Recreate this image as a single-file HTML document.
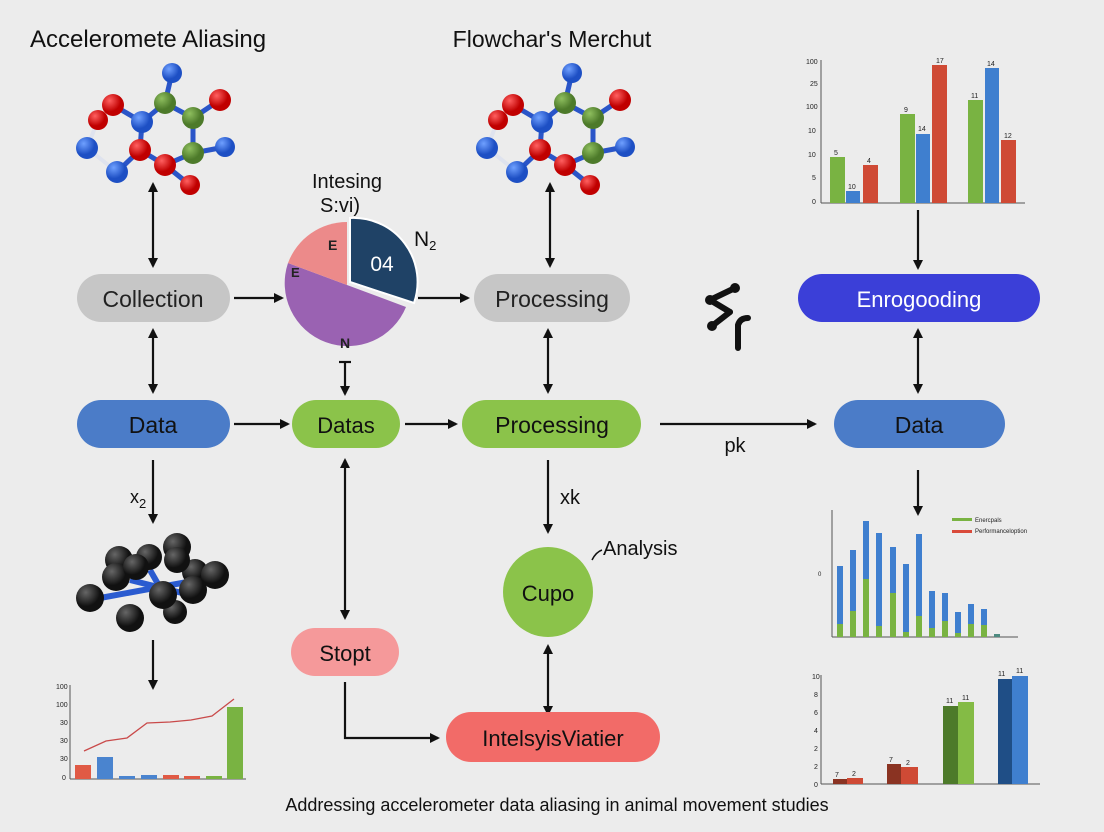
<!DOCTYPE html>
<html><head><meta charset="utf-8"><style>
html,body{margin:0;padding:0;background:#ececec;}
svg{display:block;font-family:"Liberation Sans",Arial,sans-serif;}
</style></head><body>
<svg width="1104" height="832" viewBox="0 0 1104 832" xmlns="http://www.w3.org/2000/svg">
<defs>
<marker id="ah" markerWidth="10" markerHeight="10" refX="8" refY="5" orient="auto-start-reverse" markerUnits="userSpaceOnUse"><path d="M0,0 L10,5 L0,10 Z" fill="#111"/></marker>
<radialGradient id="gb" cx="35%" cy="30%"><stop offset="0" stop-color="#6fa0ff"/><stop offset="1" stop-color="#1d4fc4"/></radialGradient>
<radialGradient id="gr" cx="35%" cy="30%"><stop offset="0" stop-color="#ff6060"/><stop offset="1" stop-color="#c00000"/></radialGradient>
<radialGradient id="gg" cx="35%" cy="30%"><stop offset="0" stop-color="#8fbf5f"/><stop offset="1" stop-color="#4d7a2a"/></radialGradient>
<radialGradient id="gk" cx="35%" cy="30%"><stop offset="0" stop-color="#666"/><stop offset="1" stop-color="#111"/></radialGradient>
<g id="mol">
<g stroke="#2a55c8" stroke-width="5">
<line x1="172" y1="73" x2="165" y2="103"/><line x1="165" y1="103" x2="193" y2="118"/><line x1="193" y1="118" x2="220" y2="100"/>
<line x1="165" y1="103" x2="142" y2="122"/><line x1="142" y1="122" x2="113" y2="105"/><line x1="142" y1="122" x2="140" y2="150"/>
<line x1="193" y1="118" x2="193" y2="153"/><line x1="193" y1="153" x2="225" y2="147"/><line x1="140" y1="150" x2="117" y2="172"/>
<line x1="140" y1="150" x2="165" y2="165"/><line x1="165" y1="165" x2="190" y2="185"/><line x1="193" y1="153" x2="165" y2="165"/>
</g>
<g stroke="#dfe3ee" stroke-width="4"><line x1="98" y1="120" x2="87" y2="148"/><line x1="87" y1="148" x2="117" y2="172"/></g>
<circle cx="172" cy="73" r="10" fill="url(#gb)"/><circle cx="220" cy="100" r="11" fill="url(#gr)"/>
<circle cx="113" cy="105" r="11" fill="url(#gr)"/><circle cx="98" cy="120" r="10" fill="url(#gr)"/>
<circle cx="165" cy="103" r="11" fill="url(#gg)"/><circle cx="193" cy="118" r="11" fill="url(#gg)"/>
<circle cx="142" cy="122" r="11" fill="url(#gb)"/><circle cx="87" cy="148" r="11" fill="url(#gb)"/>
<circle cx="140" cy="150" r="11" fill="url(#gr)"/><circle cx="193" cy="153" r="11" fill="url(#gg)"/>
<circle cx="225" cy="147" r="10" fill="url(#gb)"/><circle cx="117" cy="172" r="11" fill="url(#gb)"/>
<circle cx="165" cy="165" r="11" fill="url(#gr)"/><circle cx="190" cy="185" r="10" fill="url(#gr)"/>
</g>
</defs>

<text x="30" y="47" font-size="24" fill="#111">Acceleromete Aliasing</text>
<text x="552" y="47" font-size="23" fill="#111" text-anchor="middle">Flowchar's Merchut</text>

<use href="#mol"/>
<use href="#mol" x="400"/>

<g stroke="#111" stroke-width="2.2" fill="none">
<line x1="153" y1="184" x2="153" y2="266" marker-start="url(#ah)" marker-end="url(#ah)"/>
<line x1="550" y1="184" x2="550" y2="266" marker-start="url(#ah)" marker-end="url(#ah)"/>
<line x1="234" y1="298" x2="282" y2="298" marker-end="url(#ah)"/>
<line x1="418" y1="298" x2="468" y2="298" marker-end="url(#ah)"/>
<line x1="918" y1="210" x2="918" y2="268" marker-end="url(#ah)"/>
<line x1="153" y1="330" x2="153" y2="392" marker-start="url(#ah)" marker-end="url(#ah)"/>
<line x1="548" y1="330" x2="548" y2="392" marker-start="url(#ah)" marker-end="url(#ah)"/>
<line x1="918" y1="330" x2="918" y2="392" marker-start="url(#ah)" marker-end="url(#ah)"/>
<line x1="345" y1="362" x2="345" y2="394" marker-end="url(#ah)"/>
<line x1="339" y1="362" x2="351" y2="362"/>
<line x1="234" y1="424" x2="288" y2="424" marker-end="url(#ah)"/>
<line x1="405" y1="424" x2="456" y2="424" marker-end="url(#ah)"/>
<line x1="660" y1="424" x2="815" y2="424" marker-end="url(#ah)"/>
<line x1="153" y1="460" x2="153" y2="522" marker-end="url(#ah)"/>
<line x1="153" y1="640" x2="153" y2="688" marker-end="url(#ah)"/>
<line x1="548" y1="460" x2="548" y2="532" marker-end="url(#ah)"/>
<line x1="345" y1="460" x2="345" y2="618" marker-start="url(#ah)" marker-end="url(#ah)"/>
<line x1="548" y1="646" x2="548" y2="714" marker-start="url(#ah)" marker-end="url(#ah)"/>
<line x1="918" y1="470" x2="918" y2="514" marker-end="url(#ah)"/>
<polyline points="345,682 345,738 438,738" marker-end="url(#ah)"/>
</g>

<rect x="77" y="274" width="153" height="48" rx="24" fill="#c6c6c6"/>
<text x="153" y="307" font-size="23" text-anchor="middle" fill="#222">Collection</text>
<rect x="474" y="274" width="156" height="48" rx="24" fill="#c6c6c6"/>
<text x="552" y="307" font-size="23" text-anchor="middle" fill="#222">Processing</text>
<rect x="798" y="274" width="242" height="48" rx="24" fill="#3b3fd8"/>
<text x="919" y="307" font-size="22" text-anchor="middle" fill="#fff">Enrogooding</text>

<rect x="77" y="400" width="153" height="48" rx="24" fill="#4b7cc8"/>
<text x="153" y="433" font-size="23" text-anchor="middle" fill="#111">Data</text>
<rect x="292" y="400" width="108" height="48" rx="24" fill="#8bc34a"/>
<text x="346" y="433" font-size="22" text-anchor="middle" fill="#111">Datas</text>
<rect x="462" y="400" width="179" height="48" rx="24" fill="#8bc34a"/>
<text x="552" y="433" font-size="23" text-anchor="middle" fill="#111">Processing</text>
<rect x="834" y="400" width="171" height="48" rx="24" fill="#4b7cc8"/>
<text x="919" y="433" font-size="23" text-anchor="middle" fill="#111">Data</text>

<text x="735" y="452" font-size="20" text-anchor="middle" fill="#111">pk</text>
<text x="130" y="503" font-size="18" fill="#111">x<tspan font-size="13" dy="5">2</tspan></text>
<text x="560" y="504" font-size="20" fill="#111">xk</text>

<circle cx="548" cy="592" r="45" fill="#8bc34a"/>
<text x="548" y="601" font-size="22" text-anchor="middle" fill="#111">Cupo</text>
<path d="M592,560 Q596,552 602,550" stroke="#111" stroke-width="1.5" fill="none"/>
<text x="603" y="555" font-size="20" fill="#111">Analysis</text>

<rect x="291" y="628" width="108" height="48" rx="24" fill="#f5999a"/>
<text x="345" y="661" font-size="22" text-anchor="middle" fill="#111">Stopt</text>
<rect x="446" y="712" width="214" height="50" rx="25" fill="#f26b68"/>
<text x="553" y="746" font-size="22" text-anchor="middle" fill="#111">IntelsyisViatier</text>

<text x="347" y="188" font-size="20" text-anchor="middle" fill="#111">Intesing</text>
<text x="340" y="212" font-size="20" text-anchor="middle" fill="#111">S:vi)</text>
<path d="M347,285 L406,307 A63,63 0 0 1 288,263 Z" fill="#9a62b2"/>
<path d="M347,285 L288,263 A63,63 0 0 1 347,222 Z" fill="#ec8a8a"/>
<path d="M350,282 L350,218 A64,64 0 0 1 414,303 Z" fill="#1f4266" stroke="#fff" stroke-width="2"/>
<text x="382" y="271" font-size="21" text-anchor="middle" fill="#fff">04</text>
<text x="328" y="250" font-size="14" font-weight="bold" fill="#222">E</text>
<text x="291" y="277" font-size="13" font-weight="bold" fill="#222">E</text>
<text x="340" y="348" font-size="14" font-weight="bold" fill="#222">N</text>
<text x="414" y="246" font-size="21" fill="#111">N<tspan font-size="13" dy="4">2</tspan></text>

<g stroke="#111" stroke-width="6" fill="none" stroke-linecap="round">
<line x1="735" y1="288" x2="710" y2="300"/><line x1="710" y1="300" x2="730" y2="312"/><line x1="730" y1="312" x2="712" y2="326"/>
<path d="M738,348 L738,325 Q740,318 748,318"/>
</g>
<circle cx="735" cy="288" r="5" fill="#111"/><circle cx="710" cy="300" r="5" fill="#111"/><circle cx="712" cy="326" r="5" fill="#111"/>

<g stroke="#2a5bd0" stroke-width="6">
<line x1="100" y1="598" x2="220" y2="576"/><line x1="130" y1="580" x2="190" y2="595"/><line x1="150" y1="570" x2="170" y2="605"/>
</g>
<g>
<circle cx="119" cy="560" r="14" fill="url(#gk)"/><circle cx="149" cy="557" r="13" fill="url(#gk)"/><circle cx="177" cy="547" r="14" fill="url(#gk)"/>
<circle cx="195" cy="572" r="13" fill="url(#gk)"/><circle cx="215" cy="575" r="14" fill="url(#gk)"/>
<circle cx="116" cy="577" r="14" fill="url(#gk)"/><circle cx="136" cy="567" r="13" fill="url(#gk)"/><circle cx="177" cy="560" r="13" fill="url(#gk)"/>
<circle cx="90" cy="598" r="14" fill="url(#gk)"/><circle cx="130" cy="618" r="14" fill="url(#gk)"/><circle cx="175" cy="612" r="12" fill="url(#gk)"/>
<circle cx="163" cy="595" r="14" fill="url(#gk)"/><circle cx="193" cy="590" r="14" fill="url(#gk)"/>
</g>

<g font-size="7" fill="#222">
<line x1="821" y1="60" x2="821" y2="203" stroke="#555"/><line x1="821" y1="203" x2="1025" y2="203" stroke="#555"/>
<text x="806" y="64">100</text><text x="810" y="86">25</text><text x="806" y="109">100</text><text x="808" y="133">10</text><text x="808" y="157">10</text><text x="812" y="180">5</text><text x="812" y="204">0</text>
<rect x="830" y="157" width="15" height="46" fill="#79b342"/><rect x="846" y="191" width="14" height="12" fill="#3f7fcf"/><rect x="863" y="165" width="15" height="38" fill="#cf4a35"/>
<rect x="900" y="114" width="15" height="89" fill="#79b342"/><rect x="916" y="134" width="14" height="69" fill="#3f7fcf"/><rect x="932" y="65" width="15" height="138" fill="#cf4a35"/>
<rect x="968" y="100" width="15" height="103" fill="#79b342"/><rect x="985" y="68" width="14" height="135" fill="#3f7fcf"/><rect x="1001" y="140" width="15" height="63" fill="#cf4a35"/>
<text x="834" y="155">5</text><text x="848" y="189">10</text><text x="867" y="163">4</text><text x="904" y="112">9</text><text x="918" y="131">14</text><text x="936" y="63">17</text><text x="971" y="98">11</text><text x="987" y="66">14</text><text x="1004" y="138">12</text>
</g>

<g font-size="6" fill="#222">
<line x1="832" y1="510" x2="832" y2="637" stroke="#555"/><line x1="832" y1="637" x2="1018" y2="637" stroke="#555"/>
<rect x="837" y="566" width="6" height="71" fill="#3f7fcf"/><rect x="837" y="624" width="6" height="13" fill="#79b342"/>
<rect x="850" y="550" width="6" height="87" fill="#3f7fcf"/><rect x="850" y="611" width="6" height="26" fill="#79b342"/>
<rect x="863" y="521" width="6" height="116" fill="#3f7fcf"/><rect x="863" y="579" width="6" height="58" fill="#79b342"/>
<rect x="876" y="533" width="6" height="104" fill="#3f7fcf"/><rect x="876" y="626" width="6" height="11" fill="#79b342"/>
<rect x="890" y="547" width="6" height="90" fill="#3f7fcf"/><rect x="890" y="593" width="6" height="44" fill="#79b342"/>
<rect x="903" y="564" width="6" height="73" fill="#3f7fcf"/><rect x="903" y="632" width="6" height="5" fill="#79b342"/>
<rect x="916" y="534" width="6" height="103" fill="#3f7fcf"/><rect x="916" y="616" width="6" height="21" fill="#79b342"/>
<rect x="929" y="591" width="6" height="46" fill="#3f7fcf"/><rect x="929" y="628" width="6" height="9" fill="#79b342"/>
<rect x="942" y="593" width="6" height="44" fill="#3f7fcf"/><rect x="942" y="621" width="6" height="16" fill="#79b342"/>
<rect x="955" y="612" width="6" height="25" fill="#3f7fcf"/><rect x="955" y="633" width="6" height="4" fill="#79b342"/>
<rect x="968" y="604" width="6" height="33" fill="#3f7fcf"/><rect x="968" y="624" width="6" height="13" fill="#79b342"/>
<rect x="981" y="609" width="6" height="28" fill="#3f7fcf"/><rect x="981" y="625" width="6" height="12" fill="#79b342"/>
<rect x="994" y="634" width="6" height="3" fill="#4d8a80"/>
<rect x="952" y="518" width="20" height="3" fill="#79b342"/><rect x="952" y="530" width="20" height="3" fill="#d94a3a"/>
<text x="975" y="522">Enercpals</text><text x="975" y="533">Performanceloption</text>
<text x="818" y="576">0</text>
</g>

<g font-size="7" fill="#222">
<line x1="821" y1="675" x2="821" y2="784" stroke="#555"/><line x1="821" y1="784" x2="1040" y2="784" stroke="#555"/>
<text x="812" y="679">10</text><text x="814" y="697">8</text><text x="814" y="715">6</text><text x="814" y="733">4</text><text x="814" y="751">2</text><text x="814" y="769">2</text><text x="814" y="787">0</text>
<rect x="833" y="779" width="14" height="5" fill="#8a3322"/><rect x="847" y="778" width="16" height="6" fill="#cf4a35"/>
<rect x="887" y="764" width="14" height="20" fill="#8a3322"/><rect x="901" y="767" width="17" height="17" fill="#cf4a35"/>
<rect x="943" y="706" width="15" height="78" fill="#4d7a2a"/><rect x="958" y="702" width="16" height="82" fill="#84bb45"/>
<rect x="998" y="679" width="14" height="105" fill="#1f4e86"/><rect x="1012" y="676" width="16" height="108" fill="#3f7fcf"/>
<text x="835" y="777">7</text><text x="852" y="776">2</text><text x="889" y="762">7</text><text x="906" y="765">2</text><text x="946" y="703">11</text><text x="962" y="700">11</text><text x="998" y="676">11</text><text x="1016" y="673">11</text>
</g>

<g font-size="7" fill="#222">
<line x1="70" y1="685" x2="70" y2="779" stroke="#555"/><line x1="70" y1="779" x2="246" y2="779" stroke="#555"/>
<text x="56" y="689">100</text><text x="56" y="707">100</text><text x="60" y="725">30</text><text x="60" y="743">30</text><text x="60" y="761">30</text><text x="62" y="780">0</text>
<rect x="75" y="765" width="16" height="14" fill="#e05a45"/><rect x="97" y="757" width="16" height="22" fill="#4a84cf"/>
<rect x="119" y="776" width="16" height="3" fill="#4a84cf"/><rect x="141" y="775" width="16" height="4" fill="#4a84cf"/>
<rect x="163" y="775" width="16" height="4" fill="#e05a45"/><rect x="184" y="776" width="16" height="3" fill="#e05a45"/>
<rect x="206" y="776" width="16" height="3" fill="#79b342"/><rect x="227" y="707" width="16" height="72" fill="#79b342"/>
<polyline points="84,751 106,741 127,738 147,723 170,722 191,720 212,716 234,699" fill="none" stroke="#c94a4a" stroke-width="1.3"/>
</g>

<text x="557" y="811" font-size="18" text-anchor="middle" fill="#111">Addressing accelerometer data aliasing in animal movement studies</text>
</svg>
</body></html>
